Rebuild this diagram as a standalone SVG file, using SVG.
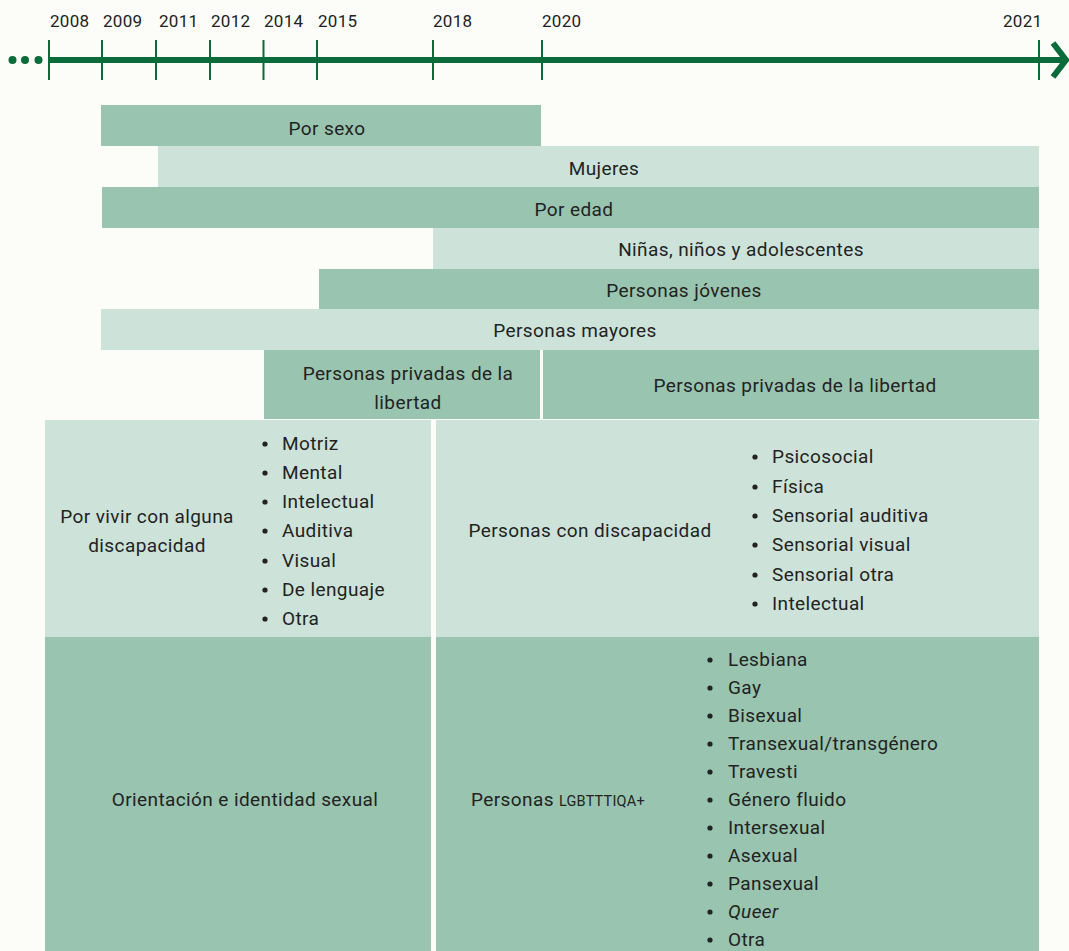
<svg xmlns="http://www.w3.org/2000/svg" width="1069" height="951" viewBox="0 0 1069 951">
<style>
text{font-family:Roboto,"Liberation Sans",sans-serif;font-size:19px;letter-spacing:0.4px;fill:#222;}
.yr{font-size:17px;letter-spacing:0.3px;}
.c{text-anchor:middle;}
.m{fill:#99c4af;}
.l{fill:#cde2d9;}
.tick{stroke:#0b6b3a;stroke-width:2;}
.sc{font-size:14.5px;letter-spacing:0.2px;}
.b{fill:#222;}
</style>
<defs><circle id="dot" r="2.6" class="b"/></defs>
<rect width="1069" height="951" fill="#fcfdf8"/>
<g id="timeline">
<circle cx="12.5" cy="60" r="4" fill="#0b6b3a"/>
<circle cx="25" cy="60" r="4" fill="#0b6b3a"/>
<circle cx="38.5" cy="60" r="4" fill="#0b6b3a"/>
<line x1="49" y1="60" x2="1062" y2="60" stroke="#0b6b3a" stroke-width="6"/>
<polyline points="1053,43 1066,60 1053,77" fill="none" stroke="#0b6b3a" stroke-width="6"/>
<line class="tick" x1="49" y1="40" x2="49" y2="80"/>
<line class="tick" x1="102" y1="40" x2="102" y2="80"/>
<line class="tick" x1="156" y1="40" x2="156" y2="80"/>
<line class="tick" x1="210" y1="40" x2="210" y2="80"/>
<line class="tick" x1="263.5" y1="40" x2="263.5" y2="80"/>
<line class="tick" x1="317" y1="40" x2="317" y2="80"/>
<line class="tick" x1="433" y1="40" x2="433" y2="80"/>
<line class="tick" x1="542" y1="40" x2="542" y2="80"/>
<line class="tick" x1="1039" y1="40" x2="1039" y2="80"/>
<text class="yr" x="50" y="27">2008</text>
<text class="yr" x="103" y="27">2009</text>
<text class="yr" x="159" y="27">2011</text>
<text class="yr" x="211" y="27">2012</text>
<text class="yr" x="264" y="27">2014</text>
<text class="yr" x="318" y="27">2015</text>
<text class="yr" x="433" y="27">2018</text>
<text class="yr" x="542" y="27">2020</text>
<text class="yr" x="1003" y="27">2021</text>
</g>
<g id="por-sexo"><rect class="m" x="101" y="105" width="440" height="41"/><text class="c" x="327" y="135">Por sexo</text></g>
<g id="mujeres"><rect class="l" x="158" y="146" width="881" height="41"/><text class="c" x="604" y="175">Mujeres</text></g>
<g id="por-edad"><rect class="m" x="102" y="187" width="937" height="41"/><text class="c" x="574" y="216">Por edad</text></g>
<g id="ninas"><rect class="l" x="433" y="228" width="606" height="41"/><text class="c" x="741" y="256">Niñas, niños y adolescentes</text></g>
<g id="jovenes"><rect class="m" x="319" y="269" width="720" height="40"/><text class="c" x="684" y="297">Personas jóvenes</text></g>
<g id="mayores"><rect class="l" x="101" y="309" width="938" height="41"/><text class="c" x="575" y="337">Personas mayores</text></g>
<g id="privadas-1"><rect class="m" x="264" y="350" width="276" height="69"/><text class="c" x="408" y="380">Personas privadas de la</text><text class="c" x="408" y="409">libertad</text></g>
<g id="privadas-2"><rect class="m" x="543" y="350" width="496" height="69"/><text class="c" x="795" y="392">Personas privadas de la libertad</text></g>
<g id="discapacidad-1"><rect class="l" x="45" y="420" width="386" height="217"/>
<text class="c" x="147" y="523">Por vivir con alguna</text><text class="c" x="147" y="552">discapacidad</text>
<g>
<use href="#dot" x="265" y="444"/><text x="282" y="450">Motriz</text>
<use href="#dot" x="265" y="473"/><text x="282" y="479">Mental</text>
<use href="#dot" x="265" y="502"/><text x="282" y="508">Intelectual</text>
<use href="#dot" x="265" y="531"/><text x="282" y="537">Auditiva</text>
<use href="#dot" x="265" y="561"/><text x="282" y="567">Visual</text>
<use href="#dot" x="265" y="590"/><text x="282" y="596">De lenguaje</text>
<use href="#dot" x="265" y="619"/><text x="282" y="625">Otra</text>
</g></g>
<g id="discapacidad-2"><rect class="l" x="436" y="420" width="603" height="217"/>
<text class="c" x="590" y="537">Personas con discapacidad</text>
<g>
<use href="#dot" x="755" y="457"/><text x="772" y="463">Psicosocial</text>
<use href="#dot" x="755" y="487"/><text x="772" y="493">Física</text>
<use href="#dot" x="755" y="516"/><text x="772" y="522">Sensorial auditiva</text>
<use href="#dot" x="755" y="545"/><text x="772" y="551">Sensorial visual</text>
<use href="#dot" x="755" y="575"/><text x="772" y="581">Sensorial otra</text>
<use href="#dot" x="755" y="604"/><text x="772" y="610">Intelectual</text>
</g></g>
<g id="orientacion"><rect class="m" x="45" y="637" width="386" height="314"/>
<text class="c" x="245" y="806">Orientación e identidad sexual</text></g>
<g id="lgbt"><rect class="m" x="436" y="637" width="603" height="314"/>
<text x="471" y="806">Personas <tspan class="sc">LGBTTTIQA+</tspan></text>
<g>
<use href="#dot" x="710" y="660"/><text x="728" y="666">Lesbiana</text>
<use href="#dot" x="710" y="688"/><text x="728" y="694">Gay</text>
<use href="#dot" x="710" y="716"/><text x="728" y="722">Bisexual</text>
<use href="#dot" x="710" y="744"/><text x="728" y="750">Transexual/transgénero</text>
<use href="#dot" x="710" y="772"/><text x="728" y="778">Travesti</text>
<use href="#dot" x="710" y="800"/><text x="728" y="806">Género fluido</text>
<use href="#dot" x="710" y="828"/><text x="728" y="834">Intersexual</text>
<use href="#dot" x="710" y="856"/><text x="728" y="862">Asexual</text>
<use href="#dot" x="710" y="884"/><text x="728" y="890">Pansexual</text>
<use href="#dot" x="710" y="912"/><text x="728" y="918" font-style="italic">Queer</text>
<use href="#dot" x="710" y="940"/><text x="728" y="946">Otra</text>
</g></g>
<g id="connectors"></g>
</svg>
